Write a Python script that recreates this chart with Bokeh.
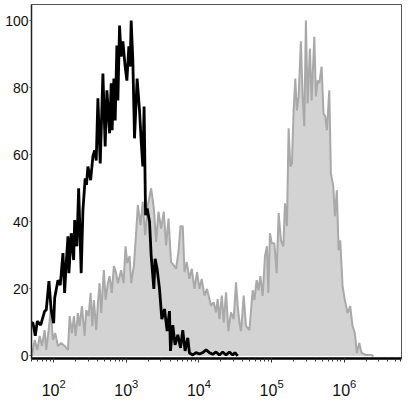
from bokeh.plotting import figure
from bokeh.models import FixedTicker, LogTicker
from bokeh.embed import file_html
from bokeh.resources import INLINE

# ---- data (x in log10 units of fluorescence intensity, y in % of max) ----
gray_log = [1.700,1.739,1.775,1.808,1.839,1.876,1.898,1.931,1.959,1.990,
            2.022,2.059,2.104,2.151,2.197,2.220,2.252,2.279,2.302,2.334,
            2.357,2.389,2.426,2.448,2.481,2.509,2.531,2.554,2.586,2.609,
            2.632,2.654,2.691,2.715,2.746,2.770,2.801,2.829,2.860,2.884,
            2.929,2.962,2.990,3.012,3.045,3.067,3.104,3.135,3.159,3.196,
            3.227,3.259,3.296,3.342,3.379,3.410,3.443,3.479,3.516,3.548,
            3.581,3.616,3.654,3.685,3.718,3.746,3.777,3.801,3.832,3.869,
            3.901,3.938,3.974,4.007,4.038,4.076,4.111,4.144,4.166,4.203,
            4.235,4.258,4.282,4.315,4.341,4.373,4.405,4.441,4.478,4.510,
            4.533,4.557,4.579,4.616,4.647,4.694,4.740,4.763,4.794,4.818,
            4.845,4.877,4.909,4.936,4.955,4.977,5.001,5.038,5.069,5.097,
            5.129,5.162,5.184,5.211,5.234,5.258,5.280,5.303,5.326,5.348,
            5.372,5.403,5.427,5.450,5.472,5.496,5.527,5.551,5.588,5.610,
            5.633,5.656,5.688,5.715,5.739,5.761,5.794,5.816,5.849,5.871,
            5.898,5.922,5.945,5.977,6.008,6.045,6.082,6.114,6.146,6.173,
            6.206,6.238,6.297,6.366,6.403]
gray_pct = [0,4.8,1.8,6,3,7.7,1.8,7.7,13.7,4.8,
            6.8,3,3.9,3,1.8,11.9,6.8,11.9,6,12.8,
            8.9,14.9,6,13.7,11.9,18.8,8.9,16.7,7.7,15.8,
            21.7,12.8,25.6,16.7,21.7,23.8,18.8,26.8,24.7,21.7,
            25.6,21.7,32.7,27.7,29.8,21.7,26.8,36.6,45,39,
            46,36,45,50,44,34,43,38,43,33,
            41,28,27,26,31,38.7,38.7,25,28,23,
            26,20,25,20,23,18,20,17,15,16,
            13,17,11,18,10,19,7.4,13,11,22,
            15,10,7.4,18,9,7.7,19.6,16.7,22.6,19.6,
            23.8,17.9,29.8,32.7,18.8,36.6,33.6,33.6,24.7,42.6,
            34.5,32.7,45.5,38.7,67.9,56.5,57.4,73.2,82.7,73.2,
            77.4,93.8,77.4,68.5,100,75.3,91.7,76.2,95.2,77.4,
            82.1,81.3,86.3,72.3,71.4,67.3,79.2,54.5,50.6,41.7,
            49.4,31.5,34.5,20.8,16.7,12.8,14.9,8.9,6.8,0.9,
            3.9,0.9,0.3,0.3,0]

black_log = [1.695,1.715,1.747,1.775,1.821,1.876,1.898,1.935,1.967,2.000,
             2.014,2.059,2.091,2.128,2.151,2.173,2.197,2.210,2.242,2.275,
             2.289,2.320,2.344,2.379,2.403,2.434,2.452,2.471,2.509,2.540,
             2.564,2.586,2.609,2.641,2.678,2.709,2.733,2.770,2.792,2.805,
             2.829,2.847,2.870,2.884,2.907,2.929,2.953,2.984,3.008,3.035,
             3.053,3.067,3.090,3.113,3.149,3.182,3.204,3.227,3.245,3.265,
             3.287,3.320,3.342,3.379,3.397,3.424,3.457,3.489,3.526,3.562,
             3.594,3.608,3.640,3.671,3.709,3.746,3.777,3.809,3.846,3.869,
             3.915,3.960,4.007,4.052,4.098,4.144,4.190,4.235,4.282,4.327,
             4.373,4.419,4.465,4.496,4.533]
black_pct = [10,9.8,6,10.4,9.2,13.4,13.7,22.3,13.4,9.8,
             17.3,22.6,21.1,30.7,18.8,27.7,35.7,24.7,36.6,28.6,
             40.5,32.7,50,24.7,43.5,53,51,56.5,52.4,59.5,
             61.3,58.3,76.8,57.4,84.2,62.5,79.2,66.4,81.3,67.3,
             82.7,70.2,92.6,76.2,98.5,89.3,93.8,86.3,82.1,92.3,
             86.3,100,88.1,64.9,82.7,73.2,64.3,56.5,74.4,42,
             44,40,30,20,29,26,20,11,14,7.4,
             13.4,1.5,9.2,3.3,6.3,2.4,7.7,1.5,5.4,0.9,
             0.3,1,0.6,1,1.8,1,0.5,1.2,0.3,1.2,
             0.3,1.2,0.3,1,0]

y_ticks = [0, 20, 40, 60, 80, 100]
x_lo_exp, x_hi_exp = 1.695, 6.788

assert len(gray_log) == len(gray_pct)
assert len(black_log) == len(black_pct)

gx = [10 ** e for e in gray_log]
bx = [10 ** e for e in black_log]

p = figure(x_axis_type="log", x_range=(10 ** x_lo_exp, 10 ** x_hi_exp),
           y_range=(-0.75, 104.8), frame_width=370, frame_height=354,
           output_backend="svg", toolbar_location=None,
           min_border_left=31, min_border_right=4, min_border_top=4,
           min_border_bottom=0, background_fill_color="white",
           border_fill_color="white")

p.varea(x=gx, y1=[0] * len(gx), y2=gray_pct, fill_color="#d3d3d3")
p.line(gx, gray_pct, line_color="#a9a9a9", line_width=2)
p.line(bx, black_pct, line_color="black", line_width=2.8)

p.grid.visible = False
p.outline_line_color = "#555555"
p.outline_line_width = 1

xa = p.xaxis[0]
xa.ticker = LogTicker(num_minor_ticks=10)
xa.axis_line_color = "black"
xa.axis_line_width = 2.5
xa.major_tick_line_color = "#333333"
xa.minor_tick_line_color = "#333333"
xa.major_tick_out = 4
xa.major_tick_in = 0
xa.minor_tick_out = 3
xa.minor_tick_in = 0
xa.major_label_standoff = 16
xa.major_label_text_font = "Liberation Sans"
xa.major_label_text_font_size = "16px"
xa.major_label_text_color = "#111111"

ya = p.yaxis[0]
ya.ticker = FixedTicker(ticks=y_ticks)
ya.axis_line_color = "#222222"
ya.axis_line_width = 1.5
ya.major_tick_line_color = "#555555"
ya.major_tick_out = 2
ya.major_tick_in = 0
ya.minor_tick_line_color = None
ya.major_label_standoff = 1
ya.major_label_text_font = "Liberation Sans"
ya.major_label_text_font_size = "14px"
ya.major_label_text_color = "#111111"

open("out.html", "w").write(file_html(p, INLINE))
